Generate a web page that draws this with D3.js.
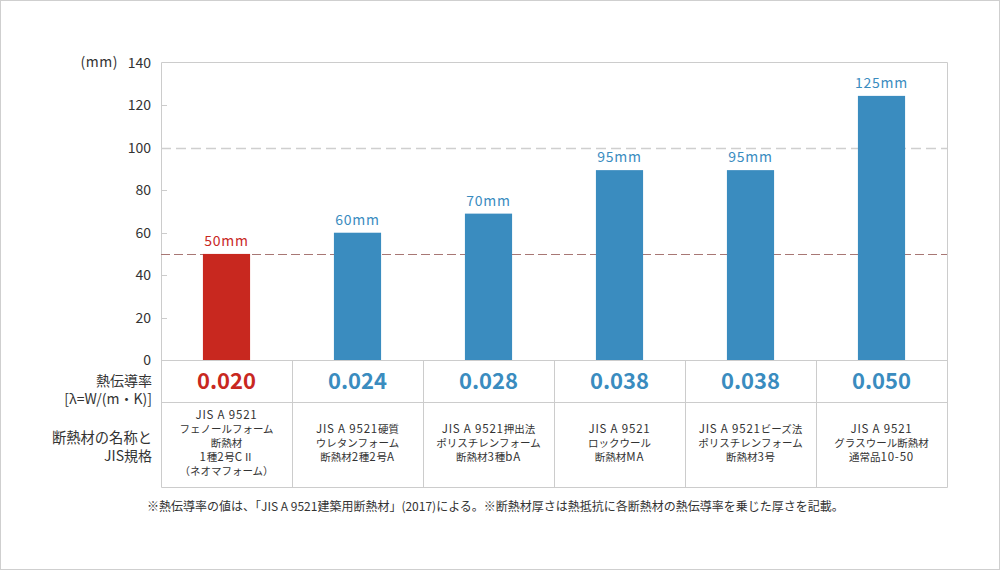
<!DOCTYPE html>
<html><head><meta charset="utf-8">
<script src="https://cdn.jsdelivr.net/npm/d3@7/dist/d3.min.js"></script>
<style>
html,body{margin:0;padding:0;background:#fff;}
svg{display:block;font-family:"Noto Sans CJK JP","Noto Sans",sans-serif;}
</style></head>
<body>
<svg id="c" width="1000" height="570"></svg>
<script>
const categories = ["phenol","urethane","xps","rockwool","eps","glasswool"];
const barHeights = [50, 60, 69, 89.5, 89.5, 124.5];
const barLabels = ["50mm","60mm","70mm","95mm","95mm","125mm"];
const conductivity = ["0.020","0.024","0.028","0.038","0.038","0.050"];
const names = [
  ["JIS A 9521","フェノールフォーム","断熱材","1種2号CⅡ","（ネオマフォーム）"],
  ["JIS A 9521硬質","ウレタンフォーム","断熱材2種2号A"],
  ["JIS A 9521押出法","ポリスチレンフォーム","断熱材3種bA"],
  ["JIS A 9521","ロックウール","断熱材MA"],
  ["JIS A 9521ビーズ法","ポリスチレンフォーム","断熱材3号"],
  ["JIS A 9521","グラスウール断熱材","通常品10-50"]
];
const yTicks = [0,20,40,60,80,100,120,140];
const refLines = [100, 50];
const rowLabel1 = ["熱伝導率","[λ=W/(m・K)]"];
const rowLabel2 = ["断熱材の名称と","JIS規格"];
const unitLabel = "(mm)";
const footnote = "※熱伝導率の値は、「JIS A 9521建築用断熱材」(2017)による。※断熱材厚さは熱抵抗に各断熱材の熱伝導率を乗じた厚さを記載。";

const RED = "#c8281f", BLUE = "#3a8cbf", GRID = "#cccccc", TXT = "#333333";
const svg = d3.select("#c");
const L = 161, R = 947, T = 63, B = 360, ROW1 = 402, ROW2 = 487;

svg.append("rect").attr("x",0.5).attr("y",0.5).attr("width",999).attr("height",569)
  .attr("fill","#fff").attr("stroke","#cfcfcf");

const x = d3.scaleBand().domain(categories).range([L,R]).paddingInner(0.64).paddingOuter(0.32);
const col = d3.scaleBand().domain(categories).range([L,R]);
const y = d3.scaleLinear().domain([0,140]).range([B,T]);

svg.append("path").attr("d",`M${L+0.5},${ROW2+0.5}V${T-0.5}H${R+0.5}V${ROW2+0.5}H${L+0.5}`)
  .attr("fill","none").attr("stroke",GRID);

svg.append("line").attr("x1",L).attr("x2",R).attr("y1",B+0.5).attr("y2",B+0.5).attr("stroke",GRID);
svg.append("line").attr("x1",L).attr("x2",R).attr("y1",ROW1+0.5).attr("y2",ROW1+0.5).attr("stroke",GRID);
svg.selectAll(".vline").data(categories.slice(1)).enter().append("line")
  .attr("x1",d=>Math.round(col(d))+0.5).attr("x2",d=>Math.round(col(d))+0.5)
  .attr("y1",B).attr("y2",ROW2).attr("stroke",GRID);

const yAxis = d3.axisLeft(y).tickValues(yTicks).tickSize(0).tickPadding(10);
const ga = svg.append("g").attr("transform",`translate(${L},0)`).call(yAxis);
ga.select(".domain").remove();
ga.selectAll("text").attr("font-size",14).attr("fill",TXT)
  .attr("font-family",'"Noto Sans CJK JP","Noto Sans",sans-serif');
svg.selectAll(".tk").data(yTicks.slice(1,-1)).enter().append("line")
  .attr("x1",L).attr("x2",L+6).attr("y1",d=>Math.round(y(d))+0.5).attr("y2",d=>Math.round(y(d))+0.5)
  .attr("stroke",GRID);
svg.append("text").attr("x",118).attr("y",y(140)).attr("dy","0.32em").attr("text-anchor","end")
  .attr("font-size",14).attr("fill",TXT).attr("letter-spacing","0.5px").text(unitLabel);

svg.selectAll(".ref").data(refLines).enter().append("line")
  .attr("x1",L).attr("x2",R).attr("y1",d=>Math.round(y(d))+0.5).attr("y2",d=>Math.round(y(d))+0.5)
  .attr("stroke",(d,i)=>i===0?"#cfcfcf":"#a87774")
  .attr("stroke-width",(d,i)=>i===0?1.5:1)
  .attr("stroke-dasharray",(d,i)=>i===0?"10,5":"9,4");

svg.selectAll(".bar").data(categories).enter().append("rect")
  .attr("x",d=>x(d)).attr("width",x.bandwidth())
  .attr("y",(d,i)=>y(barHeights[i])).attr("height",(d,i)=>B-y(barHeights[i]))
  .attr("fill",(d,i)=>i===0?RED:BLUE);

svg.selectAll(".bl").data(categories).enter().append("text")
  .attr("x",d=>x(d)+x.bandwidth()/2).attr("y",(d,i)=>y(barHeights[i])-8)
  .attr("text-anchor","middle").attr("font-size",14).attr("letter-spacing","0.8px")
  .attr("fill",(d,i)=>i===0?RED:BLUE).text((d,i)=>barLabels[i]);

svg.selectAll(".cv").data(categories).enter().append("text")
  .attr("x",d=>col(d)+col.bandwidth()/2).attr("y",389)
  .attr("text-anchor","middle").attr("font-size",22).attr("font-weight","bold")
  .attr("fill",(d,i)=>i===0?RED:BLUE).text((d,i)=>conductivity[i]);

// names row: one text per cell; ASCII runs spaced, CJK runs compact
const lh = 14, mid = 443;
categories.forEach((c,i)=>{
  const lines = names[i];
  const t = svg.append("text").attr("text-anchor","middle").attr("fill",TXT);
  lines.forEach((s,j)=>{
    const runs = s.match(/[\x20-\x7e]+|[^\x20-\x7e]+/g);
    runs.forEach((r,k)=>{
      const ascii = /^[\x20-\x7e]+$/.test(r);
      const ts = t.append("tspan").attr("font-size",ascii?11.5:10.5)
        .attr("letter-spacing",ascii?"0.8px":"0px").text(r);
      if (k===0) ts.attr("x",col(c)+col.bandwidth()/2)
        .attr("y",mid + (j-(lines.length-1)/2)*lh + 4);
    });
  });
});

const rl = svg.append("g").attr("text-anchor","end").attr("font-size",14).attr("fill",TXT);
rl.append("text").attr("x",152).attr("y",386).text(rowLabel1[0]);
rl.append("text").attr("x",152).attr("y",404).text(rowLabel1[1]);
rl.append("text").attr("x",152).attr("y",443).attr("font-size",14.3).text(rowLabel2[0]);
rl.append("text").attr("x",152).attr("y",461).text(rowLabel2[1]);

svg.append("text").attr("x",147).attr("y",511).attr("font-size",12).attr("fill",TXT).text(footnote);
</script>
</body></html>
